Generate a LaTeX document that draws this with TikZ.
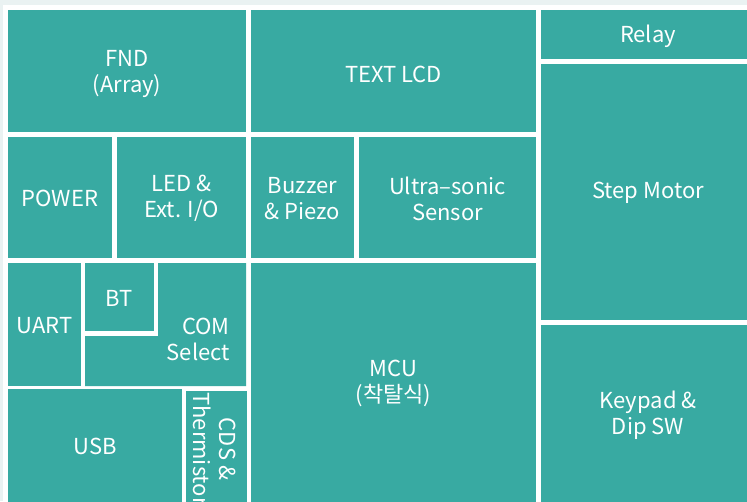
\documentclass[tikz,border=0pt]{standalone}
\usepackage{fontspec}
\setmainfont{Noto Sans CJK KR}
\definecolor{teal1}{HTML}{38AAA2}
\definecolor{band}{HTML}{EAF2F2}
\begin{document}
\begin{tikzpicture}[x=1pt,y=-1pt,
  blk/.style={fill=teal1,inner sep=0pt,outer sep=0pt},
  lbl/.style={inner sep=0pt,text=white,align=center,font=\fontsize{22}{26}\selectfont}]
\useasboundingbox (0,0) rectangle (747,501);
\fill[white] (0,0) rectangle (747,501);
\fill[band] (0,0) rectangle (747,4.5);
\fill[band] (0,0) rectangle (3,501);
\begin{scope}
\clip (0,0) rectangle (747,501);
% row 1
\node[blk,minimum width=238pt,minimum height=122pt] (fnd) at (127,71) {};
\node[lbl] (fndt) at ([yshift=-3pt]fnd.center) {FND\\(Array)};
\node[blk,minimum width=285pt,minimum height=122pt] (lcd) at (393.5,71) {};
\node[lbl] (lcdt) at ([yshift=-3pt]lcd.center) {TEXT LCD};
\node[blk,minimum width=214pt,minimum height=49pt] (relay) at (648,34.5) {};
\node[lbl] (relayt) at ([yshift=-2pt]relay.center) {Relay};
% row 2
\node[blk,minimum width=104pt,minimum height=121pt] (power) at (60,197.5) {};
\node[lbl] (powert) at ([yshift=-1pt]power.center) {POWER};
\node[blk,minimum width=129pt,minimum height=121pt] (led) at (181.5,197.5) {};
\node[lbl] (ledt) at ([yshift=-1pt]led.center) {LED \&\\Ext. I/O};
\node[blk,minimum width=103pt,minimum height=121pt] (buzz) at (302.5,197.5) {};
\node[lbl] (buzzt) at ([yshift=-1pt]buzz.center) {Buzzer\\\& Piezo};
\node[blk,minimum width=177pt,minimum height=121pt] (ultra) at (447.5,197.5) {};
\node[lbl] (ultrat) at ([yshift=-1pt]ultra.center) {Ultra--sonic\\Sensor};
\node[blk,minimum width=214pt,minimum height=256pt] (step) at (648,192) {};
\node[lbl] (stept) at ([yshift=-1pt]step.center) {Step Motor};
% row 3
\node[blk,minimum width=73pt,minimum height=123pt] (uart) at (44.5,324.5) {};
\node[lbl] (uartt) at ([yshift=-1pt]uart.center) {UART};
\node[blk,minimum width=69pt,minimum height=68pt] (bt) at (119.5,297) {};
\node[lbl] (btt) at ([yshift=-1pt]bt.center) {BT};
\fill[teal1] (158,263) -- (246,263) -- (246,386) -- (85,386) -- (85,336) -- (158,336) -- cycle;
\node[lbl,align=right,anchor=east] (com) at (230,339) {COM\\Select};
\node[blk,minimum width=285pt,minimum height=242pt] (mcu) at (393.5,384) {};
\node[lbl] (mcut) at ([yshift=1pt]mcu.center) {MCU\\(착탈식)};
\node[blk,minimum width=214pt,minimum height=180pt] (key) at (648,415) {};
\node[lbl] (keyt) at (key.center) {Keypad \&\\Dip SW};
% row 4
\node[blk,minimum width=174pt,minimum height=115pt] (usb) at (95,446.5) {};
\node[lbl] (usbt) at (usb.center) {USB};
\node[blk,minimum width=61pt,minimum height=115pt] (cds) at (216.5,448.5) {};
\begin{scope}
\clip (186,391) rectangle (247,506);
\node[lbl,rotate=-90] (cdst) at (215,449) {CDS \&\\Thermistor};
\end{scope}
\end{scope}
\end{tikzpicture}
\end{document}
